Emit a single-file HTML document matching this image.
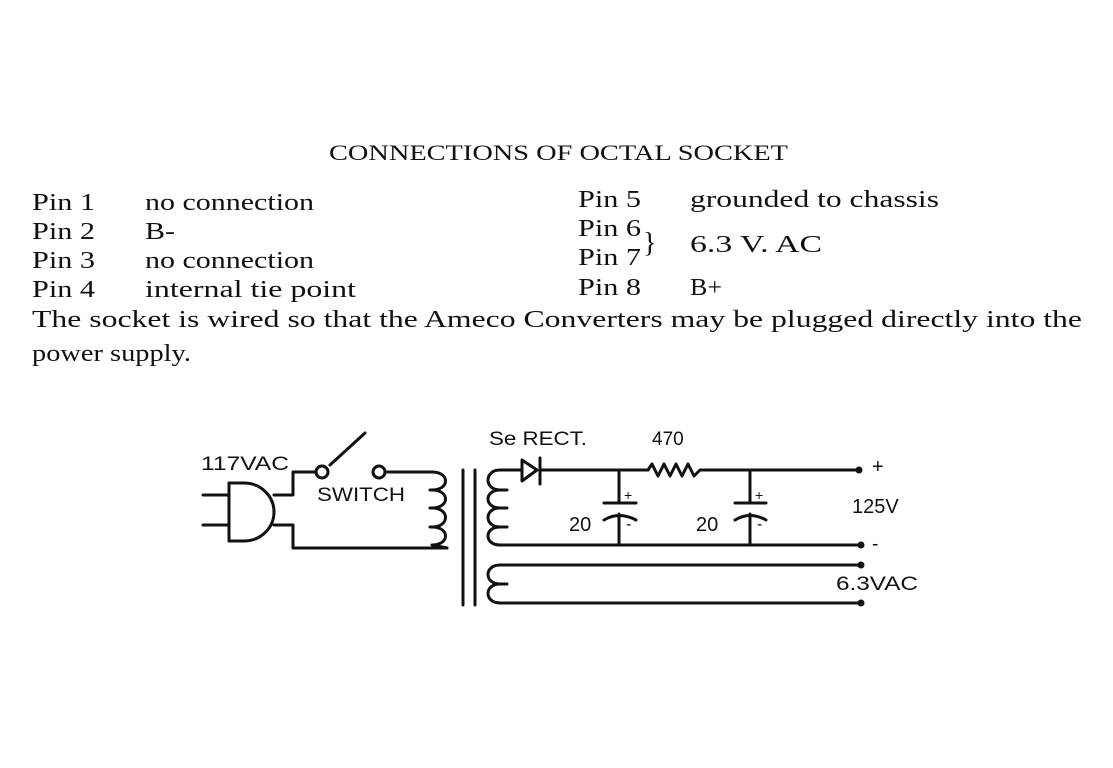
<!DOCTYPE html>
<html><head><meta charset="utf-8"><style>
html,body{margin:0;padding:0;background:#fff;}
svg{display:block;}
.t{font-family:"Liberation Serif",serif;font-size:24px;fill:#111;}
.s{font-family:"Liberation Sans",sans-serif;font-size:19px;fill:#111;}
</style></head><body>
<svg width="1113" height="768" viewBox="0 0 1113 768" xmlns="http://www.w3.org/2000/svg">
<text class="t" x="329" y="160" textLength="459" lengthAdjust="spacingAndGlyphs" style="font-size:22px">CONNECTIONS OF OCTAL SOCKET</text>
<g lengthAdjust="spacingAndGlyphs">
<text class="t" x="32" y="210" textLength="63" lengthAdjust="spacingAndGlyphs">Pin 1</text><text class="t" x="145" y="210" textLength="169" lengthAdjust="spacingAndGlyphs">no connection</text>
<text class="t" x="32" y="239" textLength="63" lengthAdjust="spacingAndGlyphs">Pin 2</text><text class="t" x="145" y="239" textLength="30" lengthAdjust="spacingAndGlyphs">B-</text>
<text class="t" x="32" y="268" textLength="63" lengthAdjust="spacingAndGlyphs">Pin 3</text><text class="t" x="145" y="268" textLength="169" lengthAdjust="spacingAndGlyphs">no connection</text>
<text class="t" x="32" y="297" textLength="63" lengthAdjust="spacingAndGlyphs">Pin 4</text><text class="t" x="145" y="297" textLength="211" lengthAdjust="spacingAndGlyphs">internal tie point</text>
<text class="t" x="578" y="207" textLength="63" lengthAdjust="spacingAndGlyphs">Pin 5</text><text class="t" x="690" y="207" textLength="249" lengthAdjust="spacingAndGlyphs">grounded to chassis</text>
<text class="t" x="578" y="236" textLength="63" lengthAdjust="spacingAndGlyphs">Pin 6</text>
<text class="t" x="578" y="265" textLength="63" lengthAdjust="spacingAndGlyphs">Pin 7</text>
<text class="t" x="643" y="252" style="font-size:28px">}</text>
<text class="t" x="690" y="252" textLength="132" lengthAdjust="spacingAndGlyphs">6.3 V. AC</text>
<text class="t" x="578" y="295" textLength="63" lengthAdjust="spacingAndGlyphs">Pin 8</text><text class="t" x="690" y="295" textLength="32" lengthAdjust="spacingAndGlyphs">B+</text>
<text class="t" x="32" y="327" textLength="1050" lengthAdjust="spacingAndGlyphs">The socket is wired so that the Ameco Converters may be plugged directly into the</text>
<text class="t" x="32" y="361" textLength="159" lengthAdjust="spacingAndGlyphs">power supply.</text>
</g>

<g fill="none" stroke="#111" stroke-width="3" stroke-linecap="round" stroke-linejoin="round">
<path d="M229 483 L244 483 A30 29 0 0 1 244 541 L229 541 Z"/>
<path d="M203 495 L229 495 M203 525 L229 525"/>
<path d="M274 495 L293 495 L293 472 L316 472"/>
<path d="M274 525 L293 525 L293 548 L447 548"/>
<circle cx="322" cy="472" r="6"/>
<circle cx="379" cy="472" r="6"/>
<path d="M330 465 L365 433"/>
<path d="M385 472 L432 472"/>
<path d="M432 472 C450 472 450 490 432 490 C450 490 450 508 432 508 C450 508 450 527 432 527 C450 527 450 545 432 545 L447 548"/>
<path d="M430 490 L437 490 M430 508 L437 508 M430 527 L437 527"/>
<path d="M463 470 L463 605 M475 470 L475 605"/>
<path d="M510 470 L500 470 C484 470 484 490 500 490 C484 490 484 508 500 508 C484 508 484 527 500 527 C484 527 484 545 500 545"/>
<path d="M500 490 L507 490 M500 508 L507 508 M500 527 L507 527"/>
<path d="M510 470 L522 470"/>
<path d="M522 460 L522 481 L537 470 Z"/>
<path d="M540 458 L540 484"/>
<path d="M540 470 L648 470"/>
<path d="M648 470 L652 464 L658 476 L664 464 L670 476 L676 464 L682 476 L688 464 L694 476 L700 470 L858 470"/>
<path d="M500 545 L860 545"/>
<path d="M619 470 L619 503 M604 503 L636 503 M604 520 Q619 511 636 520 M619 514 L619 545"/>
<path d="M750 470 L750 503 M735 503 L766 503 M735 520 Q750 511 766 520 M750 514 L750 545"/>
<path d="M860 565 L500 565 C484 565 484 584 500 584 C484 584 484 603 500 603 L860 603"/>
<path d="M500 584 L507 584"/>
</g>
<g fill="#111">
<circle cx="859" cy="470" r="3.5"/><circle cx="861" cy="545" r="3.5"/>
<circle cx="861" cy="565" r="3.5"/><circle cx="861" cy="603" r="3.5"/>
</g>
<text class="s" x="201" y="470" textLength="88" lengthAdjust="spacingAndGlyphs">117VAC</text>
<text class="s" x="317" y="501" textLength="88" lengthAdjust="spacingAndGlyphs">SWITCH</text>
<text class="s" x="489" y="445" textLength="98" lengthAdjust="spacingAndGlyphs">Se RECT.</text>
<text class="s" x="652" y="445">470</text>
<text class="s" x="569" y="531" style="font-size:20px">20</text>
<text class="s" x="696" y="531" style="font-size:20px">20</text>
<text class="s" x="624" y="500" style="font-size:14px">+</text>
<text class="s" x="755" y="500" style="font-size:14px">+</text>
<text class="s" x="626" y="529" style="font-size:16px">-</text>
<text class="s" x="757" y="529" style="font-size:16px">-</text>
<text class="s" x="872" y="473" style="font-size:20px">+</text>
<text class="s" x="852" y="513" style="font-size:20px">125V</text>
<text class="s" x="872" y="550">-</text>
<text class="s" x="836" y="590" textLength="82" lengthAdjust="spacingAndGlyphs">6.3VAC</text>
</svg>
</body></html>
